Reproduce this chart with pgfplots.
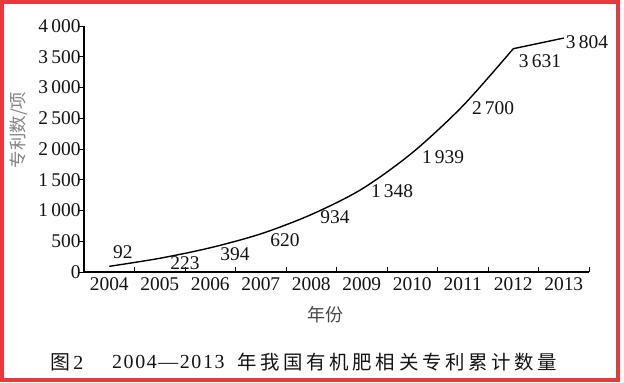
\documentclass[border=0pt]{standalone}
\usepackage{pgfplots}
\pgfplotsset{compat=1.18}
\usepackage{fontspec}
\setmainfont{Liberation Serif}
\newfontfamily\cjk{Noto Sans CJK SC}
\newfontfamily\capcjk[LetterSpace=19]{Noto Sans CJK SC}
\newfontfamily\capserif[LetterSpace=8]{Liberation Serif}
\definecolor{framered}{RGB}{226,58,62}
\definecolor{txt}{RGB}{20,20,20}
\newcommand\lbl{\fontsize{19.5}{21}\selectfont}
\begin{document}
\begin{tikzpicture}[x=1bp,y=1bp]
\useasboundingbox (0,0) rectangle (624,382);
\fill[white] (0,0) rectangle (624,382);
\draw[framered, line width=4bp] (2,2) rectangle (618,380);
\begin{axis}[
  at={(84bp,110bp)}, anchor=south west,
  scale only axis, width=505bp, height=246bp,
  xmin=-0.5, xmax=9.5, ymin=0, ymax=4000,
  clip=false,
  axis x line*=bottom, axis y line*=left,
  axis line style={line width=1.3bp, black},
  tick align=inside,
  major tick length=6bp, minor tick length=5bp,
  tick style={line width=1bp, black},
  xtick={0,...,9},
  xticklabels={2004,2005,2006,2007,2008,2009,2010,2011,2012,2013},
  minor xtick={-0.5,0.5,...,9.5},
  every major x tick/.append style={draw=none},
  every major y tick/.append style={xshift=-6bp},
  ytick={0,500,...,4000},
  ticklabel style={font=\lbl, text=txt},
  xticklabel style={yshift=-2bp},
  yticklabel style={anchor=east, xshift=0bp},
  /pgf/number format/.cd, 1000 sep={\,}, assume math mode=true,
]
\addplot[black, line width=1.4bp, smooth, tension=0.5] coordinates {
  (0,92) (1,223) (2,394) (3,620) (4,934) (5,1348) (6,1939) (7,2700) (8,3631)};
\addplot[black, line width=1.4bp] coordinates {(8,3631) (9,3804)};
\node[font=\lbl, text=txt] at (axis cs:0.27,325) {92};
\node[font=\lbl, text=txt] at (axis cs:1.50,146) {223};
\node[font=\lbl, text=txt] at (axis cs:2.49,293) {394};
\node[font=\lbl, text=txt] at (axis cs:3.48,520) {620};
\node[font=\lbl, text=txt] at (axis cs:4.47,894) {934};
\node[font=\lbl, text=txt] at (axis cs:5.60,1317) {1\,348};
\node[font=\lbl, text=txt] at (axis cs:6.61,1870) {1\,939};
\node[font=\lbl, text=txt] at (axis cs:7.60,2667) {2\,700};
\node[font=\lbl, text=txt] at (axis cs:8.53,3431) {3\,631};
\node[font=\lbl, text=txt] at (axis cs:9.46,3740) {3\,804};
\end{axis}
\node[rotate=90, text={rgb,255:red,130;green,130;blue,130}, font=\cjk\fontsize{17.5}{18}\selectfont] at (19,252) {专利数/项};
\node[text={rgb,255:red,70;green,70;blue,70}, font=\cjk\fontsize{18}{19}\selectfont] at (325,67) {年份};
\node[anchor=west, inner sep=0, text=txt, font=\fontsize{20}{21}\selectfont] at (50,20) {{\cjk 图}\,2};
\node[anchor=west, inner sep=0, text=txt, font=\capserif\fontsize{20}{21}\selectfont] at (112,20) {2004—2013};
\node[anchor=west, inner sep=0, text=txt, font=\capcjk\fontsize{19.5}{21}\selectfont] at (237,20) {年我国有机肥相关专利累计数量};
\end{tikzpicture}
\end{document}
